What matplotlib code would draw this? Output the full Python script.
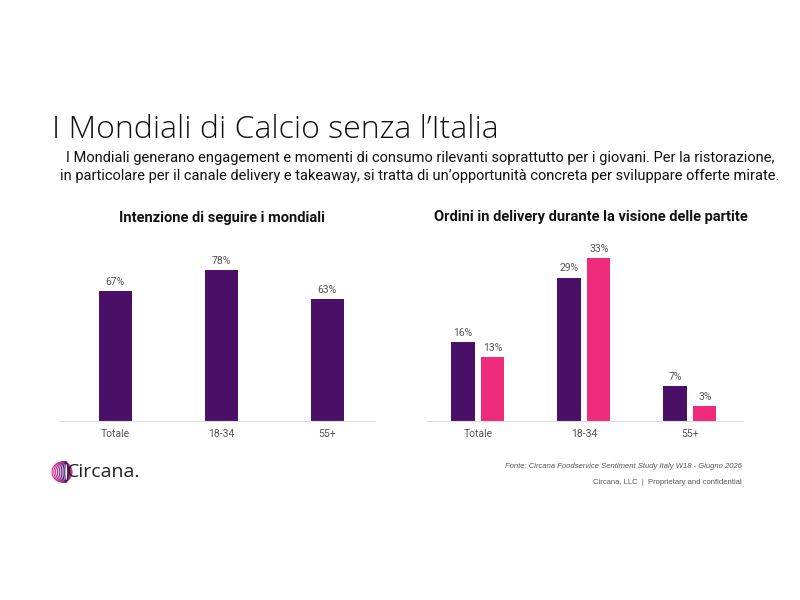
"""Mondiali di calcio senza l'Italia - Circana slide"""
import matplotlib
matplotlib.use("Agg")
import matplotlib.pyplot as plt
from matplotlib.patches import Ellipse
import numpy as np

PURPLE = "#4A1068"
PINK = "#EE2B7B"
GREY = "#555555"

# data
groups = ["Totale", "18-34", "55+"]
follow = [67, 78, 63]
delivery_a = [16, 29, 7]
delivery_b = [13, 33, 3]

title = "I Mondiali di Calcio senza l\u2019Italia"
subtitle = ("I Mondiali generano engagement e momenti di consumo rilevanti soprattutto per i giovani. Per la ristorazione,\n"
            "in particolare per il canale delivery e takeaway, si tratta di un\u2019opportunit\u00e0 concreta per sviluppare offerte mirate.")
left_title = "Intenzione di seguire i mondiali"
right_title = "Ordini in delivery durante la visione delle partite"
source = "Fonte: Circana Foodservice Sentiment Study Italy W18 - Giugno 2026"
legal = "Circana, LLC  |  Proprietary and confidential"

W, H = 800, 600
fig = plt.figure(figsize=(8, 6), dpi=100)


def px_axes(x0, y0, x1, y1):
    # pixel box (top-left origin) -> figure axes
    return fig.add_axes([x0 / W, 1 - y1 / H, (x1 - x0) / W, (y1 - y0) / H])


def style(ax):
    for s in ["top", "right", "left"]:
        ax.spines[s].set_visible(False)
    ax.spines["bottom"].set_color("#DDDDDD")
    ax.spines["bottom"].set_linewidth(0.8)
    ax.set_yticks([])
    ax.tick_params(axis="x", length=0, pad=6, labelsize=7.5, labelcolor=GREY)
    for lab in ax.get_xticklabels():
        lab.set_family("Roboto")


def label_bars(ax, bars, vals):
    for b, v in zip(bars, vals):
        ax.annotate(f"{v}%", (b.get_x() + b.get_width() / 2, b.get_height()),
                    xytext=(0, 3), textcoords="offset points", ha="center", va="bottom",
                    fontsize=7.5, color=GREY, family="Roboto")


x = np.arange(len(groups))

# left chart
ax1 = px_axes(60, 245, 375, 421)
b1 = ax1.bar(x, follow, width=0.31, color=PURPLE)
ax1.set_xlim(-0.52, 2.45)
ax1.set_ylim(0, 91)
ax1.set_xticks(x, groups)
style(ax1)
label_bars(ax1, b1, follow)

# right chart
ax2 = px_axes(427, 245, 743, 421)
ba = ax2.bar(x - 0.14, delivery_a, width=0.22, color=PURPLE)
bb = ax2.bar(x + 0.14, delivery_b, width=0.22, color=PINK)
ax2.set_xlim(-0.48, 2.5)
ax2.set_ylim(0, 35.6)
ax2.set_xticks(x, groups)
style(ax2)
label_bars(ax2, ba, delivery_a)
label_bars(ax2, bb, delivery_b)

# texts
fig.text(52 / W, 1 - 130 / H, title, fontsize=23, family="Open Sans", weight="light",
         color="#111111", va="center")
fig.text(420 / W, 1 - 167 / H, subtitle, fontsize=10.5, family="Roboto", color="#111111",
         ha="center", va="center", linespacing=1.3)
fig.text(222 / W, 1 - 218 / H, left_title, fontsize=10.5, family="Roboto", weight="bold",
         ha="center", va="center", color="#111111")
fig.text(591 / W, 1 - 217 / H, right_title, fontsize=10.5, family="Roboto", weight="bold",
         ha="center", va="center", color="#111111")
fig.text(742 / W, 1 - 466 / H, source, fontsize=5.5, style="italic", family="Liberation Sans",
         ha="right", va="center", color=GREY)
fig.text(742 / W, 1 - 483 / H, legal, fontsize=5.5, family="Liberation Sans",
         ha="right", va="center", color=GREY)

# logo
lg = px_axes(51, 461, 73, 483)
lg.set_xlim(-1.1, 1.1)
lg.set_ylim(-1.1, 1.1)
lg.set_aspect("equal")
lg.axis("off")
cols = plt.matplotlib.colors.LinearSegmentedColormap.from_list("c", [PINK, "#8A3C9E", PURPLE])
for i, w in enumerate(np.linspace(2.0, 0.3, 8)):
    lg.add_patch(Ellipse((0.5 - 0.5 * w / 2, 0), w, 2.0, fill=False, lw=0.8, color=cols(i / 7)))
fig.text(67 / W, 1 - 472 / H, "Circana.", fontsize=14, family="Open Sans", color="#222222", va="center")

fig.savefig("out.png", dpi=100, facecolor="white")
